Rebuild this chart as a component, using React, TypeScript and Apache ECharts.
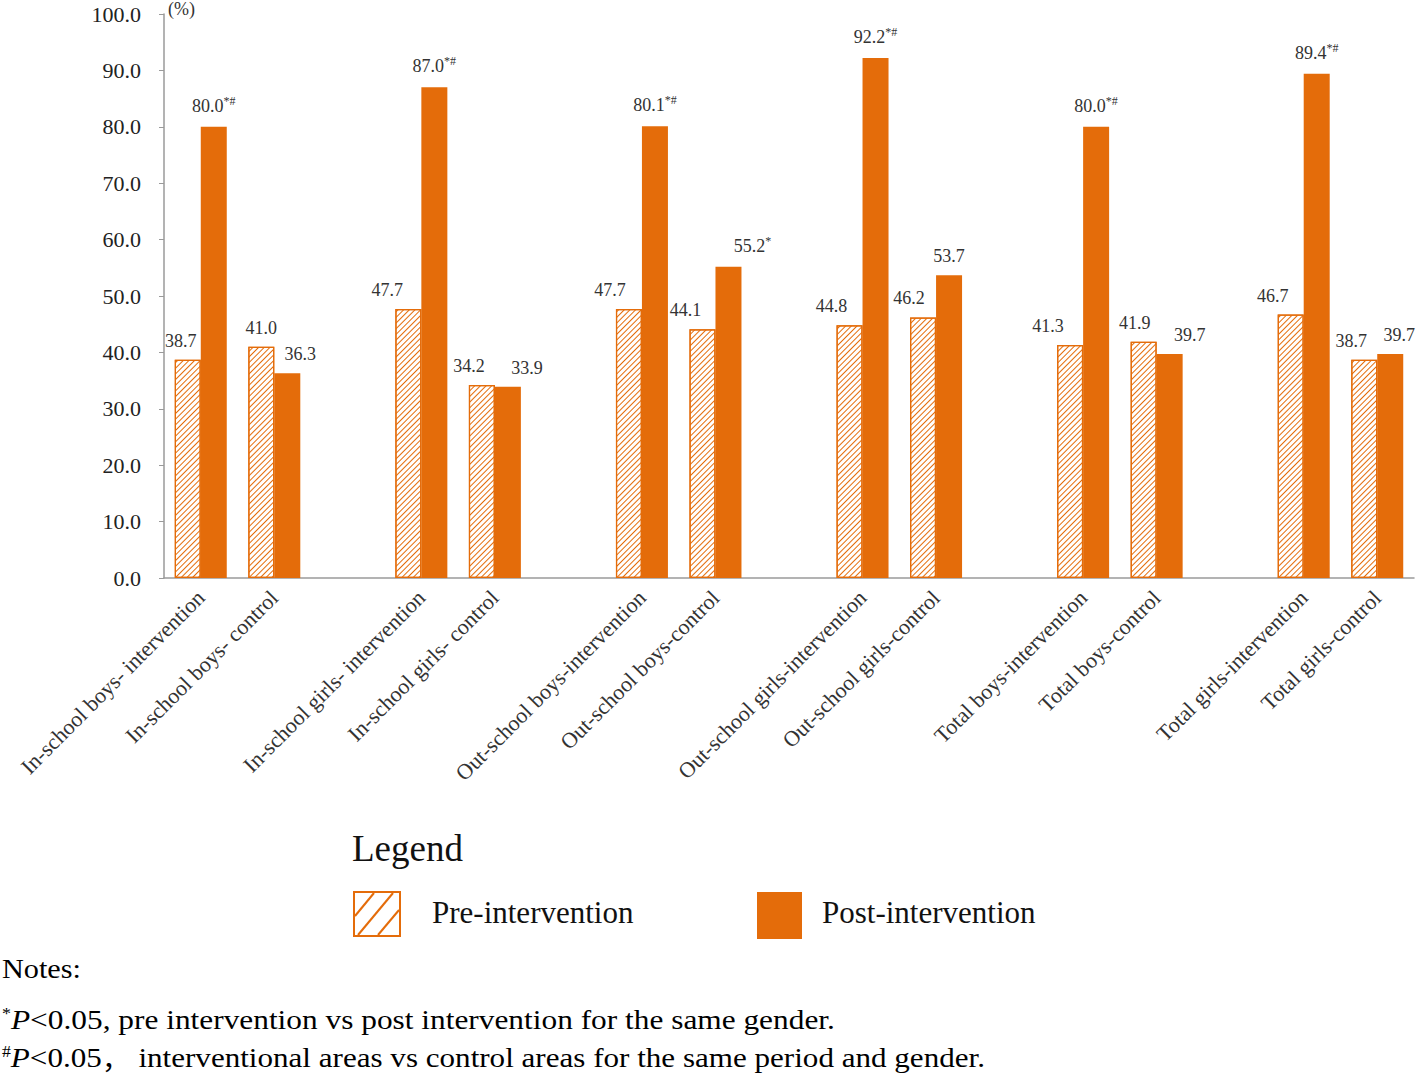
import React, { useEffect, useRef } from "react";
import * as echarts from "echarts";

const groupLabels = [
  "In-school boys- intervention",
  "In-school boys- control",
  "In-school girls- intervention",
  "In-school girls- control",
  "Out-school boys-intervention",
  "Out-school boys-control",
  "Out-school girls-intervention",
  "Out-school girls-control",
  "Total boys-intervention",
  "Total boys-control",
  "Total girls-intervention",
  "Total girls-control",
];
const preValues = [38.7, 41.0, 47.7, 34.2, 47.7, 44.1, 44.8, 46.2, 41.3, 41.9, 46.7, 38.7];
const postValues = [80.0, 36.3, 87.0, 33.9, 80.1, 55.2, 92.2, 53.7, 80.0, 39.7, 89.4, 39.7];
const postMarks = ["*#", "", "*#", "", "*#", "*", "*#", "", "*#", "", "*#", ""];
const yTicks = [0, 10, 20, 30, 40, 50, 60, 70, 80, 90, 100];

// label nudges (styling only, in px)
const preLabelShift = [-7, 0, -21, -13, -19, -17, -18, -14, -22, -9, -18, -13];
const postLabelShift = [0, 13, 0, 19, 0, 24, 0, 0, 0, 20, 0, 9];

const ORANGE = "#E46C0A";
const FONT = "'Liberation Serif', 'Times New Roman', serif";
const TEXT = "#333333";

export default function App() {
  const ref = useRef<HTMLDivElement>(null);
  useEffect(() => {
    document.body.style.margin = "0";
    if (!ref.current) return;
    const chart = echarts.init(ref.current, undefined, { renderer: "svg" });

    const axisCats: string[] = [];
    const preData: any[] = [];
    const postData: any[] = [];
    const markData: string[] = [];
    groupLabels.forEach((lab, i) => {
      axisCats.push(lab);
      preData.push({ value: preValues[i], label: { offset: [preLabelShift[i], 0] } });
      postData.push({ value: postValues[i], label: { offset: [postLabelShift[i], 0] } });
      markData.push(postMarks[i]);
      if (i % 2 === 1 && i < groupLabels.length - 1) {
        axisCats.push("");
        preData.push("-");
        postData.push("-");
        markData.push("");
      }
    });

    const valueLabelStyle = {
      v: { fontFamily: FONT, fontSize: 18, color: TEXT },
      s: { fontFamily: FONT, fontSize: 12, color: TEXT, verticalAlign: "top", padding: [0, 0, 10, 0] },
    };

    const noteRich = {
      s: { fontFamily: FONT, fontSize: 16, fill: "#000", verticalAlign: "top" },
      i: { fontFamily: FONT, fontSize: 28, fontStyle: "italic", fill: "#000" },
      n: { fontFamily: FONT, fontSize: 28, fill: "#000" },
      c: { fontFamily: "'Noto Sans CJK SC'", fontSize: 26, fill: "#000" },
    };

    const option: any = {
      animation: false,
      backgroundColor: "#ffffff",
      grid: { left: 164, right: 4, top: 14, bottom: 502, containLabel: false },
      xAxis: {
        type: "category",
        data: axisCats,
        axisLine: { show: true, lineStyle: { color: "#9a9a9a", width: 1.5 } },
        axisTick: { show: false },
        axisLabel: {
          interval: 0,
          rotate: 45,
          margin: 16,
          fontFamily: FONT,
          fontSize: 22,
          color: TEXT,
        },
      },
      yAxis: {
        type: "value",
        min: yTicks[0],
        max: yTicks[yTicks.length - 1],
        interval: 10,
        splitLine: { show: false },
        axisLine: { show: true, lineStyle: { color: "#9a9a9a", width: 1.5 } },
        axisTick: { show: true, length: 5, lineStyle: { color: "#9a9a9a" } },
        axisLabel: {
          margin: 23,
          fontFamily: FONT,
          fontSize: 22,
          color: "#222222",
          formatter: (v: number) => v.toFixed(1),
        },
      },
      series: [
        {
          type: "bar",
          name: "Pre-intervention",
          data: preData,
          barWidth: 26,
          barGap: "0%",
          itemStyle: {
            color: "#ffffff",
            borderColor: ORANGE,
            borderWidth: 1.2,
            decal: {
              symbol: "rect",
              symbolSize: 1,
              dashArrayX: [1, 0],
              dashArrayY: [1, 3],
              rotation: -Math.PI / 4,
              color: ORANGE,
            },
          },
          label: {
            show: true,
            position: "top",
            distance: 10,
            fontFamily: FONT,
            fontSize: 18,
            color: TEXT,
            formatter: (p: any) => Number(p.value).toFixed(1),
          },
        },
        {
          type: "bar",
          name: "Post-intervention",
          data: postData,
          barWidth: 26,
          itemStyle: { color: ORANGE },
          label: {
            show: true,
            position: "top",
            distance: 10,
            rich: valueLabelStyle,
            formatter: (p: any) => {
              const m = markData[p.dataIndex];
              const v = `{v|${Number(p.value).toFixed(1)}}`;
              return m ? `${v}{s|${m}}` : v;
            },
          },
        },
      ],
      graphic: [
        { type: "text", left: 168, top: 0, style: { text: "(%)", fontFamily: FONT, fontSize: 18, fill: TEXT } },
        { type: "text", left: 352, top: 830, style: { text: "Legend", fontFamily: FONT, fontSize: 37, fill: "#111" } },
        {
          type: "rect",
          shape: { x: 354, y: 892, width: 46, height: 44 },
          style: { fill: "#fff", stroke: ORANGE, lineWidth: 2 },
        },
        { type: "line", shape: { x1: 355, y1: 916, x2: 374, y2: 893 }, style: { stroke: ORANGE, lineWidth: 2 } },
        { type: "line", shape: { x1: 358, y1: 935, x2: 393, y2: 893 }, style: { stroke: ORANGE, lineWidth: 2 } },
        { type: "line", shape: { x1: 378, y1: 935, x2: 399, y2: 910 }, style: { stroke: ORANGE, lineWidth: 2 } },
        { type: "text", left: 432, top: 897, style: { text: "Pre-intervention", fontFamily: FONT, fontSize: 31, fill: "#111" } },
        {
          type: "rect",
          shape: { x: 757, y: 892, width: 45, height: 47 },
          style: { fill: ORANGE },
        },
        { type: "text", left: 822, top: 897, style: { text: "Post-intervention", fontFamily: FONT, fontSize: 31, fill: "#111" } },
        {
          type: "text",
          x: 2,
          y: 954,
          scaleX: 1.08,
          style: { text: "Notes:", fontFamily: FONT, fontSize: 28, fill: "#000" },
        },
        {
          type: "text",
          x: 2,
          y: 1006,
          scaleX: 1.12,
          style: {
            text: "{s|*}{i|P}{n|<0.05, pre intervention vs post intervention for the same gender.}",
            rich: noteRich,
          },
        },
        {
          type: "text",
          x: 2,
          y: 1044,
          scaleX: 1.11,
          style: {
            text: "{s|#}{i|P}{n|<0.05}{c|，}{n| interventional areas vs control areas for the same period and gender.}",
            rich: noteRich,
          },
        },
      ],
    };
    chart.setOption(option);
    return () => chart.dispose();
  }, []);
  return <div ref={ref} style={{ width: 1418, height: 1080 }} />;
}
